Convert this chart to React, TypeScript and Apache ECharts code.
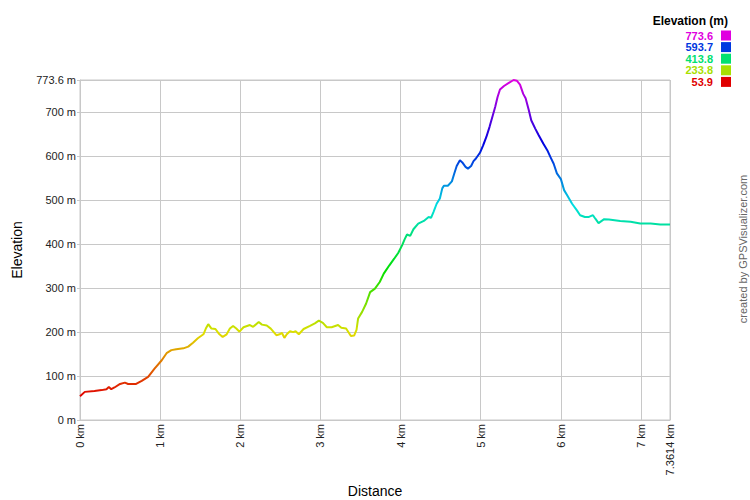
import React, { useEffect, useRef } from "react";
import * as echarts from "echarts";

// Distance (km) along the track
const distanceKm = [
  0.0, 0.06, 0.18, 0.27, 0.33, 0.36, 0.39, 0.43, 0.5, 0.56, 0.6, 0.7, 0.77, 0.85, 0.93,
  1.02, 1.08, 1.14, 1.2, 1.29, 1.35, 1.41, 1.47, 1.54, 1.57, 1.6, 1.64, 1.69, 1.73, 1.78,
  1.83, 1.87, 1.91, 1.95, 1.99, 2.04, 2.12, 2.16, 2.23, 2.27, 2.33, 2.38, 2.45, 2.49,
  2.52, 2.55, 2.58, 2.62, 2.66, 2.69, 2.73, 2.79, 2.87, 2.93, 2.98, 3.03, 3.08, 3.14,
  3.22, 3.26, 3.32, 3.38, 3.42, 3.45, 3.47, 3.52, 3.57, 3.62, 3.68, 3.74, 3.79, 3.86,
  3.92, 3.97, 4.02, 4.05, 4.08, 4.12, 4.16, 4.22, 4.29, 4.35, 4.38, 4.41, 4.45, 4.49,
  4.52, 4.54, 4.59, 4.64, 4.67, 4.7, 4.74, 4.77, 4.81, 4.84, 4.88, 4.91, 4.94, 4.99,
  5.03, 5.07, 5.11, 5.15, 5.18, 5.21, 5.24, 5.29, 5.35, 5.41, 5.45, 5.49, 5.53, 5.56,
  5.6, 5.63, 5.68, 5.72, 5.78, 5.83, 5.87, 5.91, 5.95, 6.0, 6.04, 6.08, 6.14, 6.2, 6.24,
  6.3, 6.35, 6.4, 6.43, 6.47, 6.54, 6.6, 6.74, 6.87, 6.99, 7.12, 7.24, 7.3614,
];

// Elevation (m) at each distance
const elevationM = [
  53.9, 64, 66, 68, 70, 75, 70, 74, 82, 85, 82, 82, 89, 98, 117,
  136, 152, 159, 161, 163, 167, 176, 186, 195, 208, 218, 208, 207, 197, 189,
  195, 208, 214, 208, 201, 211, 216, 212, 223, 217, 215, 208, 193, 195,
  198, 187, 195, 202, 200, 202, 195, 207, 214, 220, 226, 221, 211, 211,
  216, 210, 208, 191, 192, 205, 231, 246, 265, 291, 299, 314, 333, 352,
  367, 380, 398, 411, 422, 419, 434, 447, 453, 462, 460, 473, 492, 504,
  527, 533, 533, 543, 561, 578, 591, 586, 576, 572, 578, 589, 595, 608,
  625, 644, 667, 693, 712, 735, 752, 760, 767, 773.6, 772, 763, 742, 732,
  705, 682, 663, 649, 629, 614, 598, 583, 561, 548, 523, 511, 492, 477, 466,
  462, 462, 466, 458, 448, 457, 456, 453, 451, 447, 447, 445, 445,
];

// Colour-scale legend
const legendValues = ["773.6", "593.7", "413.8", "233.8", "53.9"];
const legendColors = ["#e000e0", "#0038e0", "#00e070", "#a8e000", "#e00000"];

const elevMin = 53.9;
const elevMax = 773.6;
const distMax = 7.3614;

// Hue spectrum red -> magenta
const spectrum = [
  "#e00000", "#e07000", "#e0e000", "#70e000", "#00e000", "#00e070",
  "#00e0e0", "#0070e0", "#0000e0", "#7000e0", "#e000e0",
];

export default function App() {
  const ref = useRef<HTMLDivElement>(null);

  useEffect(() => {
    if (!ref.current) return;
    const chart = echarts.init(ref.current, null, { renderer: "svg" });
    const data = distanceKm.map((d, i) => [d, elevationM[i]]);
    const font = "Arial, 'Liberation Sans', sans-serif";

    const legendGraphics: any[] = [
      {
        type: "text",
        right: 22,
        top: 15,
        style: {
          text: "Elevation (m)",
          font: `bold 12px ${font}`,
          fill: "#000",
        },
      },
    ];
    legendValues.forEach((v, i) => {
      const cy = 35.5 + i * 11.6;
      legendGraphics.push({
        type: "text",
        x: 713,
        y: cy,
        style: {
          text: v,
          font: `bold 11px ${font}`,
          lineHeight: 11,
          fill: legendColors[i],
          align: "right",
          verticalAlign: "middle",
        },
      });
      legendGraphics.push({
        type: "rect",
        shape: { x: 721, y: cy - 5, width: 10, height: 10 },
        style: { fill: legendColors[i] },
      });
    });
    legendGraphics.push({
      type: "text",
      x: 743,
      y: 249,
      rotation: Math.PI / 2,
      style: {
        text: "created by GPSVisualizer.com",
        font: `11px ${font}`,
        fill: "#666",
        align: "center",
        verticalAlign: "middle",
      },
    });

    chart.setOption({
      animation: false,
      backgroundColor: "#fff",
      grid: {
        left: 80,
        right: 80,
        top: 80,
        bottom: 80,
        containLabel: false,
        outerBoundsMode: "none",
        show: true,
        borderColor: "#c8c8c8",
        borderWidth: 1,
      },
      visualMap: {
        type: "continuous",
        show: false,
        dimension: 1,
        seriesIndex: 0,
        min: elevMin,
        max: elevMax,
        inRange: { color: spectrum },
      },
      xAxis: {
        type: "value",
        min: 0,
        max: distMax,
        interval: 1,
        name: "Distance",
        nameLocation: "middle",
        nameGap: 64,
        nameTextStyle: { fontFamily: font, fontSize: 14, color: "#000" },
        axisLine: { show: true, lineStyle: { color: "#c8c8c8" } },
        axisTick: { show: false },
        splitLine: { show: true, lineStyle: { color: "#c8c8c8" } },
        axisLabel: {
          rotate: 90,
          margin: 4,
          fontFamily: font,
          fontSize: 11,
          color: "#222",
          showMaxLabel: true,
          formatter: (v: number) => `${v} km`,
        },
      },
      yAxis: {
        type: "value",
        min: 0,
        max: elevMax,
        interval: 100,
        name: "Elevation",
        nameLocation: "middle",
        nameGap: 56,
        nameTextStyle: { fontFamily: font, fontSize: 14, color: "#000" },
        axisLine: { show: true, lineStyle: { color: "#c8c8c8" } },
        axisTick: { show: true, length: 3, lineStyle: { color: "#c8c8c8" } },
        splitLine: { show: true, lineStyle: { color: "#c8c8c8" } },
        axisLabel: {
          margin: 4,
          fontFamily: font,
          fontSize: 11,
          color: "#222",
          showMaxLabel: true,
          formatter: (v: number) => `${v} m`,
        },
      },
      graphic: legendGraphics,
      series: [
        {
          type: "line",
          data,
          showSymbol: false,
          symbol: "none",
          lineStyle: { width: 2 },
        },
      ],
    });

    return () => chart.dispose();
  }, []);

  return (
    <div
      ref={ref}
      style={{ position: "absolute", left: 0, top: 0, width: 750, height: 500 }}
    />
  );
}
